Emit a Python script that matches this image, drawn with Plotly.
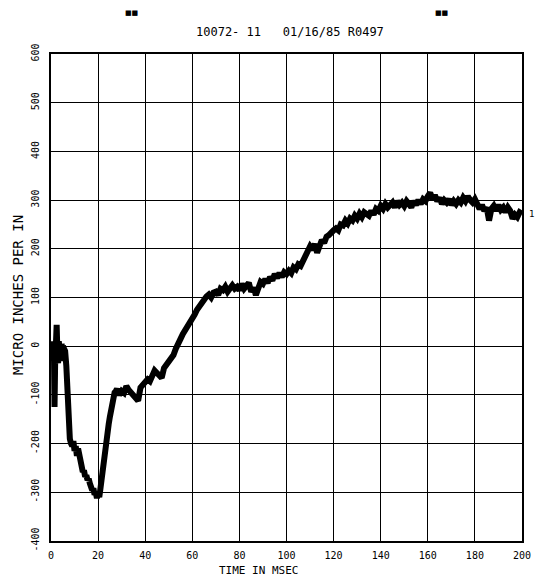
import plotly.graph_objects as go

# ---- data ----
time_ms = [0, 0.3, 0.6, 0.9, 1.2, 1.5, 1.8, 2.1, 2.4, 2.7, 3.0, 3.3, 3.6, 3.9, 4.2, 4.5, 4.8, 5.1, 5.5,
           6, 6.5, 7, 7.5, 8, 8.5, 9, 9.5, 10, 10.5, 11, 11.5, 12, 12.5, 13, 13.5, 14, 14.5, 15, 15.5,
           16, 16.5, 17, 17.5, 18, 18.5, 19, 19.5, 20, 20.5, 21, 21.5, 22, 22.5, 23, 23.5, 24, 24.5,
           25, 25.5, 26, 26.5, 27, 27.5, 28] + list(range(29, 201))
strain = [-5, -25, 5, -30, 10, -125, -20, 5, 44, -10, -35, 10, -25, 8, -30, 5, -20, 0, -5,
          -10, -40, -110, -160, -190, -200, -205, -195, -215, -205, -225, -210, -225, -235, -245, -258, -255, -268, -265, -275,
          -272, -282, -290, -296, -292, -305, -300, -312, -302, -310, -292, -270, -250, -228, -210, -192, -175, -160,
          -145, -130, -118, -105, -95, -92, -88,
          -100, -92, -96, -82, -90, -95, -100, -108, -112, -85, -80, -75, -68, -72, -58, -50, -55, -62, -65, -45,
          -38, -35, -25, -18, -5, 8, 15, 25, 32, 42, 50, 58, 65, 75, 82, 90, 98, 102, 106, 100,
          110, 112, 105, 118, 115, 122, 112, 120, 125, 118, 122, 115, 128, 118, 125, 130, 112, 120, 105, 125,
          132, 128, 138, 130, 142, 135, 148, 140, 150, 142, 152, 148, 155, 150, 162, 158, 168, 165, 175, 180,
          195, 205, 198, 210, 192, 210, 218, 212, 225, 228, 235, 238, 242, 238, 250, 248, 258, 252, 262, 258,
          268, 262, 272, 265, 275, 270, 268, 278, 270, 282, 278, 288, 282, 292, 285, 290, 295, 285, 298, 290,
          295, 288, 298, 292, 285, 298, 290, 300, 292, 302, 298, 308, 315, 302, 310, 298, 305, 292, 300, 295,
          302, 290, 298, 292, 300, 295, 305, 298, 308, 300, 295, 302, 288, 282, 290, 278, 285, 258, 282, 288,
          278, 290, 280, 285, 275, 285, 278, 262, 270, 265, 275, 272]

x_ticks = [0, 20, 40, 60, 80, 100, 120, 140, 160, 180, 200]
y_ticks = [-400, -300, -200, -100, 0, 100, 200, 300, 400, 500, 600]

title_text = "10072- 11   01/16/85 R0497"
x_title = "TIME IN MSEC"
y_title = "MICRO INCHES PER IN"
curve_label = "1"
marker_text = "■■"

font_family = "DejaVu Sans Mono"

fig = go.Figure()
fig.add_trace(go.Scatter(
    x=time_ms, y=strain, mode="lines",
    line=dict(color="black", width=6),
    hoverinfo="skip", showlegend=False,
))

# the page body adds an 8px margin, so the figure is sized 8px smaller
fig.update_layout(
    width=535, height=577,
    margin=dict(l=43, r=12, t=46, b=44),
    paper_bgcolor="white", plot_bgcolor="white",
    font=dict(family=font_family, size=10, color="black"),
    showlegend=False,
)

fig.update_xaxes(
    range=[0, 200], tickvals=x_ticks, ticktext=[str(v) for v in x_ticks],
    showgrid=True, gridcolor="black", gridwidth=1.4,
    showline=True, linecolor="black", linewidth=1.8, mirror=True,
    zeroline=False, ticks="", ticklabelstandoff=4,
    tickfont=dict(family=font_family, size=10, color="black"),
)
fig.update_yaxes(
    range=[-400, 600], tickvals=y_ticks, ticktext=[str(v) for v in y_ticks],
    showgrid=True, gridcolor="black", gridwidth=1.4,
    showline=True, linecolor="black", linewidth=1.8, mirror=True,
    zeroline=False, ticks="", tickangle=-90, ticklabelstandoff=6,
    tickfont=dict(family=font_family, size=10, color="black"),
)

annotations = [
    dict(text=title_text, xref="paper", yref="paper", x=0.508, y=1.0, yshift=22,
         showarrow=False, xanchor="center", yanchor="middle",
         font=dict(family=font_family, size=12, color="black")),
    dict(text=marker_text, xref="paper", yref="paper", x=0.17, y=1.0, yshift=41,
         showarrow=False, xanchor="center", yanchor="middle",
         font=dict(family="DejaVu Sans", size=7, color="black")),
    dict(text=marker_text, xref="paper", yref="paper", x=0.83, y=1.0, yshift=41,
         showarrow=False, xanchor="center", yanchor="middle",
         font=dict(family="DejaVu Sans", size=7, color="black")),
    dict(text=x_title, xref="paper", yref="paper", x=0.44, y=0.0, yshift=-29,
         showarrow=False, xanchor="center", yanchor="middle",
         font=dict(family=font_family, size=11, color="black")),
    dict(text=y_title, xref="paper", yref="paper", x=0.0, y=0.505, xshift=-33,
         showarrow=False, xanchor="center", yanchor="middle", textangle=-90,
         font=dict(family=font_family, size=14, color="black")),
    dict(text=curve_label, xref="x", yref="y", x=time_ms[-1], y=strain[-1],
         showarrow=False, xanchor="left", yanchor="middle", xshift=5,
         font=dict(family=font_family, size=9, color="black")),
]
fig.update_layout(annotations=annotations)

fig.write_html("out.html")
